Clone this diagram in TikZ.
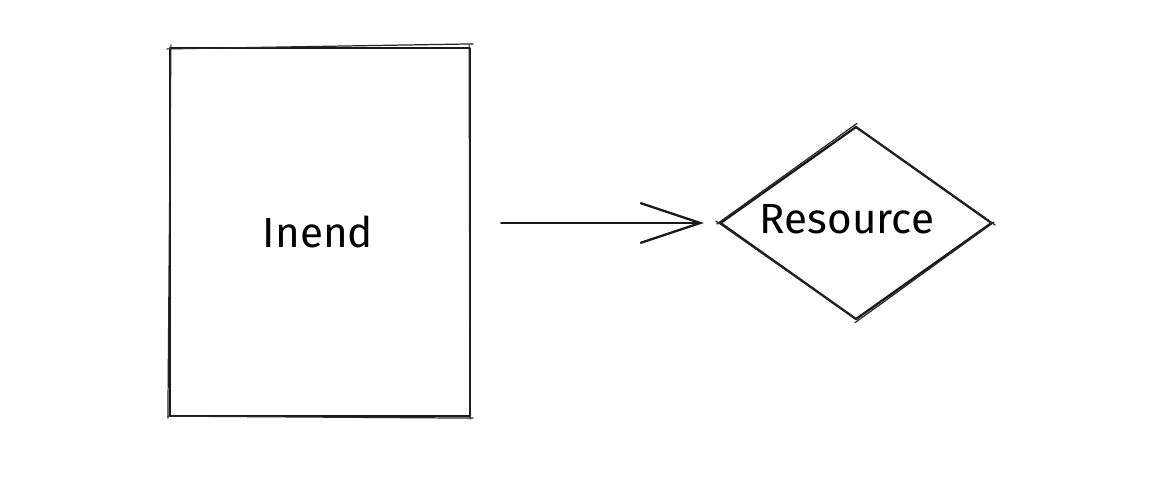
\documentclass[tikz,border=0pt]{standalone}
\usepackage{fontspec}
\setmainfont{Fira Sans}
\usetikzlibrary{shapes.geometric,arrows.meta,calc}
\begin{document}
\begin{tikzpicture}[x=0.02cm,y=-0.02cm,
  ink/.style={draw=black!90,line width=1.3pt,line join=round,line cap=round},
  sketch/.style={draw=black!85,line width=0.7pt,line cap=round},
  lbl/.style={font=\fontsize{24}{28}\selectfont},
  boxnode/.style={ink,rectangle,minimum width=6cm,minimum height=7.36cm,inner sep=0pt},
  dia/.style={ink,diamond,minimum width=5.44cm,minimum height=3.86cm,inner sep=0pt},
  arr/.style={ink,-{Straight Barb[length=1.2cm,width=0.8cm,line width=1.3pt]}}]
\useasboundingbox (0,0) rectangle (1164,488);
\node[boxnode] (inend) at (320,232) {};
\node[lbl] (inendtext) at (318,232) {Inend};
\node[dia] (res) at (856,223) {};
\node[lbl] (restext) at (847,219) {Resource};
% sketchy second strokes
\draw[sketch] ($(inend.north west)+(-2,2)$) -- ($(inend.north east)+(2,-3)$);
\draw[sketch] ($(inend.north west)+(2,-2)$) -- ($(inend.south west)+(-1,1)$);
\draw[sketch] ($(inend.south west)+(-1,-1)$) -- ($(inend.south east)+(2,1)$);
\draw[sketch] ($(inend.north east)+(-2,-2)$) -- ($(inend.south east)+(-1,2)$);
\draw[sketch] ($(res.west)+(-2,1)$) -- ($(res.north)+(1,-2)$);
\draw[sketch] ($(res.north)+(-1,1)$) -- ($(res.east)+(2,2)$);
\draw[sketch] ($(res.east)+(1,-1)$) -- ($(res.south)+(-1,2)$);
\draw[sketch] ($(res.south)+(1,-1)$) -- ($(res.west)+(-3,-2)$);
\draw[arr,shorten <=0.6cm,shorten >=0.3cm] (inend.east |- res.west) -- (res.west);
\end{tikzpicture}
\end{document}
